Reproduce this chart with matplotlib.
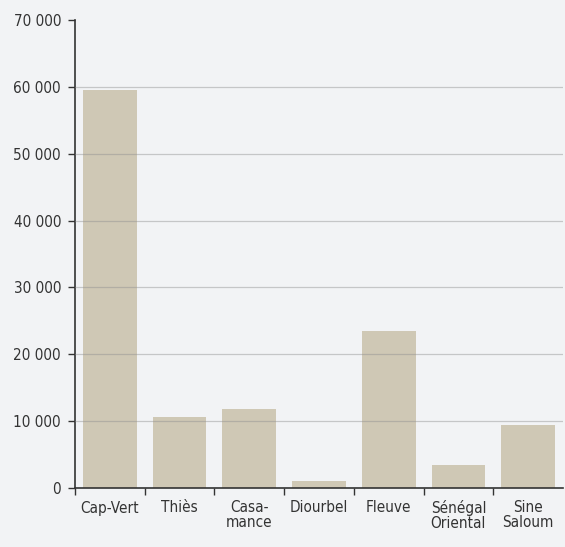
import numpy as np
import matplotlib.pyplot as plt
from matplotlib.ticker import FuncFormatter, MultipleLocator, FixedLocator

# condensed sans to mimic the narrow labels of the original
plt.rcParams['font.family'] = ['DejaVu Sans']
plt.rcParams['font.stretch'] = 'condensed'

regions = ['Cap-Vert', 'Thiès', 'Casa-\nmance', 'Diourbel', 'Fleuve',
           'Sénégal\nOriental', 'Sine\nSaloum']
values = [59600, 10600, 11800, 1050, 23500, 3400, 9400]

bg = '#f2f3f5'
fig = plt.figure(figsize=(5.65, 5.47), dpi=100, facecolor=bg)
ax = fig.add_axes([75/565, 1 - 488/547, 488/565, 468/547], facecolor=bg)

x = np.arange(len(regions))
ax.bar(x, values, width=0.77, color='#cfc8b5', zorder=2)

ax.set_xlim(-0.5, len(regions) - 0.5)
ax.set_ylim(0, 70000)

ax.yaxis.set_major_locator(MultipleLocator(10000))
ax.yaxis.set_major_formatter(FuncFormatter(lambda v, p: f'{int(v):,}'.replace(',', ' ')))

# grid lines drawn over the bars, skip 0 and the top
for yv in range(10000, 70000, 10000):
    ax.axhline(yv, color='#909090', alpha=0.45, lw=0.9, zorder=3)

ax.set_xticks(x)
ax.set_xticklabels(regions, linespacing=0.95)
ax.xaxis.set_minor_locator(FixedLocator(np.arange(-0.5, len(regions) - 1, 1.0)))
ax.tick_params(axis='x', which='major', length=0, pad=9, labelsize=11, colors='#333333')
ax.tick_params(axis='x', which='minor', length=5, width=1, color='#333333', direction='out')
ax.tick_params(axis='y', length=5, width=1, color='#333333', labelsize=11,
               labelcolor='#333333', pad=5)

for s in ['top', 'right']:
    ax.spines[s].set_visible(False)
for s in ['left', 'bottom']:
    ax.spines[s].set_color('#333333')
    ax.spines[s].set_linewidth(1.2)
ax.spines['bottom'].set_zorder(4)

fig.savefig('out.png', dpi=100, facecolor=bg)
